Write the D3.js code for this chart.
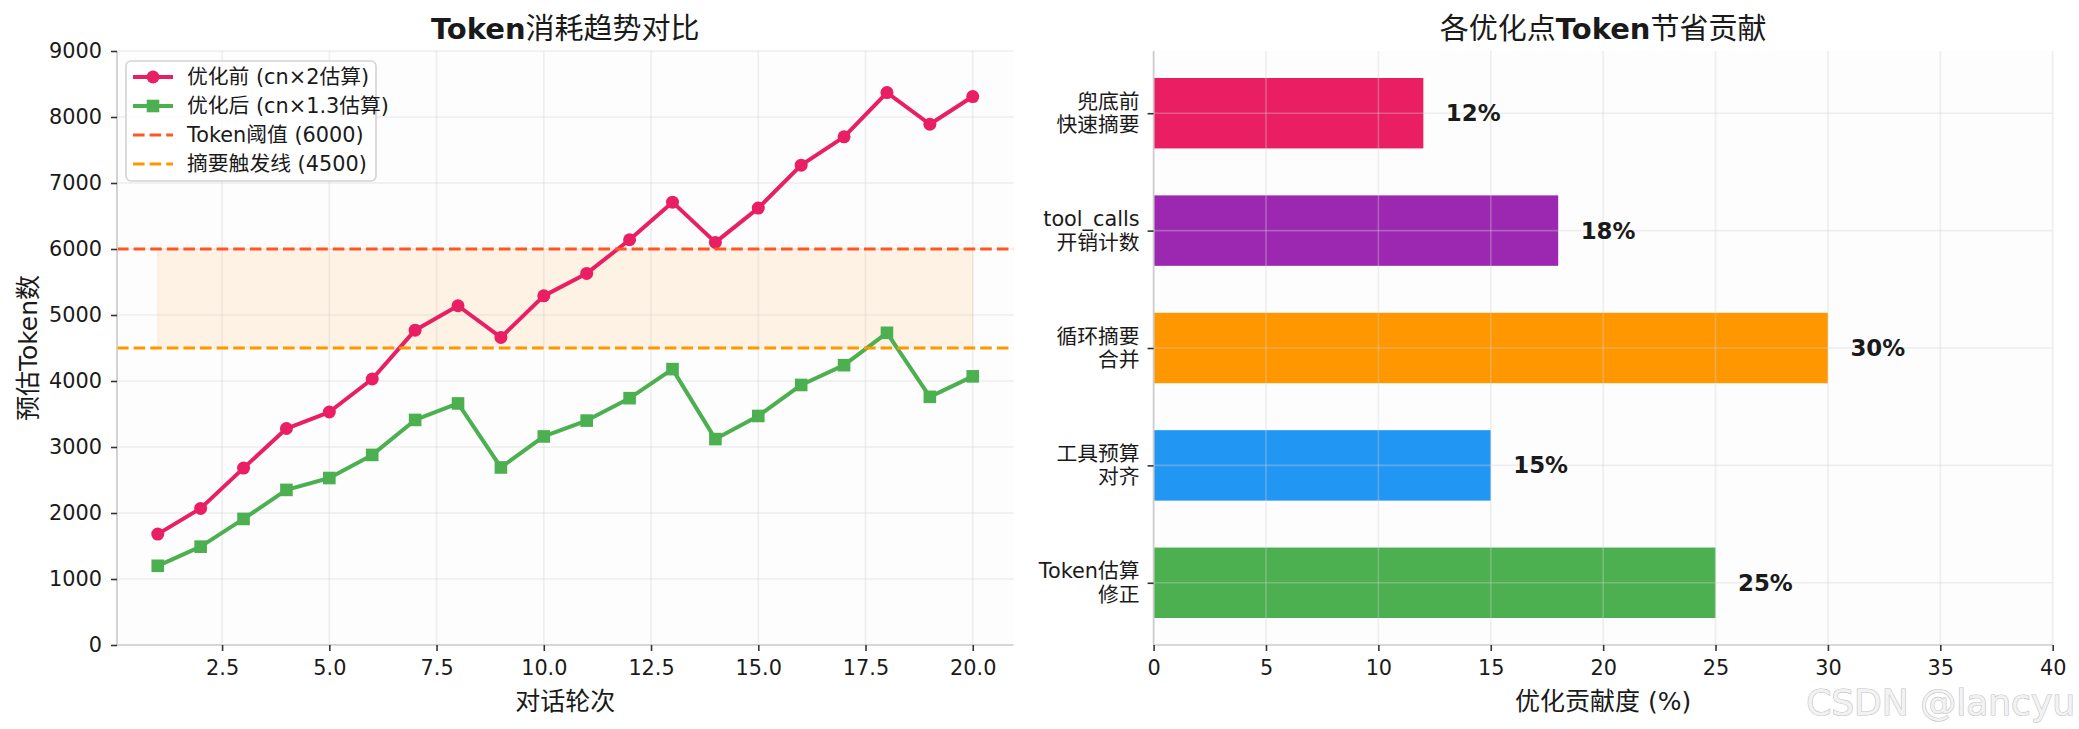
<!DOCTYPE html>
<html><head><meta charset="utf-8">
<script src="https://cdn.jsdelivr.net/npm/d3@7/dist/d3.min.js"></script>
<style>
body{margin:0;background:#fff}
svg{display:block}
text{font-family:"DejaVu Sans","Noto Sans CJK SC",sans-serif;fill:#1a1a1a}
</style>
</head><body>
<svg id="c" width="2079" height="729"></svg>
<script>
// ---------- data ----------
const rounds = [1,2,3,4,5,6,7,8,9,10,11,12,13,14,15,16,17,18,19,20];
const tokensBefore = [1680,2070,2680,3280,3530,4030,4770,5140,4660,5290,5630,6140,6710,6100,6620,7270,7700,8370,7890,8310];
const tokensAfter  = [1200,1490,1910,2350,2530,2880,3410,3660,2690,3160,3400,3740,4180,3120,3470,3940,4240,4730,3760,4070];
const tokenLimit = 6000;
const summaryTrigger = 4500;
const lineYTicks = [0,1000,2000,3000,4000,5000,6000,7000,8000,9000];
const lineXTicks = [2.5,5,7.5,10,12.5,15,17.5,20];
const legendLabels = ["优化前 (cn×2估算)","优化后 (cn×1.3估算)","Token阈值 (6000)","摘要触发线 (4500)"];

const optLabels = [["Token估算","修正"],["工具预算","对齐"],["循环摘要","合并"],["tool_calls","开销计数"],["兜底前","快速摘要"]];
const optValues = [25,15,30,18,12];
const optColors = ["#4CAF50","#2196F3","#FF9800","#9C27B0","#E91E63"];
const barXTicks = [0,5,10,15,20,25,30,35,40];

// ---------- layout ----------
const W=2079,H=729;
const svg=d3.select('#c');
svg.append('rect').attr('width',W).attr('height',H).attr('fill','#fff');
const L={x0:117,x1:1013.5,y0:51,y1:645};
const R={x0:1153.6,x1:2052.7,y0:51,y1:645};
const FS=20.8;
const C_BEFORE="#E91E63", C_AFTER="#4CAF50", C_LIMIT="#FF5722", C_TRIG="#FF9800";

function gridLine(g){ return g.attr('stroke','#d0d0d0').attr('stroke-opacity',0.35).attr('stroke-width',1.6); }

// ================= LEFT CHART =================
const xL=d3.scaleLinear().domain([0.05,20.95]).range([L.x0,L.x1]);
const yL=d3.scaleLinear().domain([0,9000]).range([L.y1,L.y0]);
const gL=svg.append('g');
gL.append('rect').attr('x',L.x0).attr('y',L.y0).attr('width',L.x1-L.x0).attr('height',L.y1-L.y0).attr('fill','#fdfdfd');

// shaded band
gL.append('path').datum(rounds)
  .attr('d',d3.area().x(d=>xL(d)).y0(()=>yL(summaryTrigger)).y1(()=>yL(tokenLimit)))
  .attr('fill',C_TRIG).attr('fill-opacity',0.1).attr('stroke',C_TRIG).attr('stroke-opacity',0.12).attr('stroke-width',1);

// grid
gL.append('g').selectAll('line').data(lineXTicks).join('line')
  .attr('x1',d=>xL(d)).attr('x2',d=>xL(d)).attr('y1',L.y0).attr('y2',L.y1).call(gridLine);
gL.append('g').selectAll('line').data(lineYTicks).join('line')
  .attr('x1',L.x0).attr('x2',L.x1).attr('y1',d=>yL(d)).attr('y2',d=>yL(d)).call(gridLine);

// series
const lineGen=d3.line().x((d,i)=>xL(rounds[i])).y(d=>yL(d));
gL.append('path').datum(tokensBefore).attr('d',lineGen).attr('fill','none').attr('stroke',C_BEFORE).attr('stroke-width',4).attr('stroke-linejoin','round');
gL.append('g').selectAll('circle').data(tokensBefore).join('circle')
  .attr('cx',(d,i)=>xL(rounds[i])).attr('cy',d=>yL(d)).attr('r',6.5).attr('fill',C_BEFORE);
gL.append('path').datum(tokensAfter).attr('d',lineGen).attr('fill','none').attr('stroke',C_AFTER).attr('stroke-width',4).attr('stroke-linejoin','round');
gL.append('g').selectAll('rect').data(tokensAfter).join('rect')
  .attr('x',(d,i)=>xL(rounds[i])-6.3).attr('y',d=>yL(d)-6.3).attr('width',12.6).attr('height',12.6).attr('fill',C_AFTER);

// threshold lines
[[tokenLimit,C_LIMIT],[summaryTrigger,C_TRIG]].forEach(([v,c])=>{
  gL.append('line').attr('x1',L.x0).attr('x2',L.x1).attr('y1',yL(v)).attr('y2',yL(v))
    .attr('stroke',c).attr('stroke-width',3.1).attr('stroke-dasharray','11.6 5');
});

// spines
gL.append('line').attr('x1',L.x0).attr('x2',L.x0).attr('y1',L.y0).attr('y2',L.y1).attr('stroke','#cccccc').attr('stroke-width',1.7);
gL.append('line').attr('x1',L.x0).attr('x2',L.x1).attr('y1',L.y1).attr('y2',L.y1).attr('stroke','#cccccc').attr('stroke-width',1.7);

// axes
function styleAxis(g){
  g.select('.domain').remove();
  g.selectAll('.tick line').attr('stroke','#333').attr('stroke-width',1.6);
  g.selectAll('.tick text').attr('font-size',FS).attr('fill','#1a1a1a').attr('font-family','"DejaVu Sans","Noto Sans CJK SC",sans-serif');
}
gL.append('g').attr('transform',`translate(0,${L.y1})`)
  .call(d3.axisBottom(xL).tickValues(lineXTicks).tickFormat(d3.format('.1f')).tickSize(6).tickPadding(9)).call(styleAxis);
gL.append('g').attr('transform',`translate(${L.x0},0)`)
  .call(d3.axisLeft(yL).tickValues(lineYTicks).tickFormat(d3.format('d')).tickSize(6).tickPadding(9)).call(styleAxis);

// title & labels
const tL=svg.append('text').attr('x',(L.x0+L.x1)/2).attr('y',39).attr('text-anchor','middle').attr('font-size',29);
tL.append('tspan').attr('font-weight','bold').text('Token');
tL.append('tspan').attr('font-family','"Noto Sans CJK SC"').text('消耗趋势对比');
svg.append('text').attr('x',(L.x0+L.x1)/2).attr('y',710).attr('text-anchor','middle').attr('font-size',25).text('对话轮次');
svg.append('text').attr('transform',`translate(28,${(L.y0+L.y1)/2}) rotate(-90)`).attr('text-anchor','middle')
  .attr('dominant-baseline','central').attr('font-size',25).text('预估Token数');

// legend
const lg=svg.append('g');
lg.append('rect').attr('x',126).attr('y',61).attr('width',250).attr('height',120).attr('rx',5)
  .attr('fill','#fff').attr('fill-opacity',0.85).attr('stroke','#d3d3d3').attr('stroke-width',1.6);
const legendStyles=[{c:C_BEFORE,m:'circle'},{c:C_AFTER,m:'square'},{c:C_LIMIT,d:true},{c:C_TRIG,d:true}];
legendLabels.forEach((lab,i)=>{
  const y=77+i*29, s=legendStyles[i];
  const ln=lg.append('line').attr('x1',133).attr('x2',173).attr('y1',y).attr('y2',y).attr('stroke',s.c);
  if(s.d){ ln.attr('stroke-width',3.1).attr('stroke-dasharray','11.6 5'); }
  else { ln.attr('stroke-width',4); }
  if(s.m==='circle') lg.append('circle').attr('cx',153).attr('cy',y).attr('r',6.5).attr('fill',s.c);
  if(s.m==='square') lg.append('rect').attr('x',146.7).attr('y',y-6.3).attr('width',12.6).attr('height',12.6).attr('fill',s.c);
  lg.append('text').attr('x',187).attr('y',y).attr('dominant-baseline','central').attr('font-size',FS).text(lab);
});

// ================= RIGHT CHART =================
const xR=d3.scaleLinear().domain([0,40]).range([R.x0,R.x1]);
const yR=d3.scaleLinear().domain([-0.53,4.53]).range([R.y1,R.y0]);
const gR=svg.append('g');
gR.append('rect').attr('x',R.x0).attr('y',R.y0).attr('width',R.x1-R.x0).attr('height',R.y1-R.y0).attr('fill','#fdfdfd');
const barH=yR(-0.3)-yR(0.3);
gR.append('g').selectAll('rect').data(optValues).join('rect')
  .attr('x',xR(0)).attr('y',(d,i)=>yR(i)-barH/2).attr('width',d=>xR(d)-xR(0)).attr('height',barH)
  .attr('fill',(d,i)=>optColors[i]);
// grid (above bars)
gR.append('g').selectAll('line').data(barXTicks).join('line')
  .attr('x1',d=>xR(d)).attr('x2',d=>xR(d)).attr('y1',R.y0).attr('y2',R.y1).call(gridLine);
gR.append('g').selectAll('line').data(optValues).join('line')
  .attr('x1',R.x0).attr('x2',R.x1).attr('y1',(d,i)=>yR(i)).attr('y2',(d,i)=>yR(i)).call(gridLine);
// value labels
gR.append('g').selectAll('text').data(optValues).join('text')
  .attr('x',d=>xR(d+1)).attr('y',(d,i)=>yR(i)).attr('dominant-baseline','central')
  .attr('font-size',22.9).attr('font-weight','bold').text(d=>d+'%');
// spines
gR.append('line').attr('x1',R.x0).attr('x2',R.x0).attr('y1',R.y0).attr('y2',R.y1).attr('stroke','#cccccc').attr('stroke-width',1.7);
gR.append('line').attr('x1',R.x0).attr('x2',R.x1).attr('y1',R.y1).attr('y2',R.y1).attr('stroke','#cccccc').attr('stroke-width',1.7);
gR.append('g').attr('transform',`translate(0,${R.y1})`)
  .call(d3.axisBottom(xR).tickValues(barXTicks).tickFormat(d3.format('d')).tickSize(6).tickPadding(9)).call(styleAxis);
const yAx=gR.append('g').attr('transform',`translate(${R.x0},0)`)
  .call(d3.axisLeft(yR).tickValues(d3.range(optLabels.length)).tickFormat('').tickSize(6)).call(styleAxis);
yAx.selectAll('.tick text').remove();
gR.append('g').selectAll('text').data(optLabels).join('text')
  .attr('text-anchor','end').attr('font-size',FS)
  .each(function(lines,i){
    const t=d3.select(this);
    lines.forEach((s,k)=>{
      t.append('tspan').attr('x',R.x0-14).attr('y',yR(i)+(k===0?-11.5:12)).attr('dominant-baseline','central').text(s);
    });
  });
const tR=svg.append('text').attr('x',(R.x0+R.x1)/2).attr('y',39).attr('text-anchor','middle').attr('font-size',29);
tR.append('tspan').attr('font-family','"Noto Sans CJK SC"').text('各优化点');
tR.append('tspan').attr('font-weight','bold').text('Token');
tR.append('tspan').attr('font-family','"Noto Sans CJK SC"').text('节省贡献');
svg.append('text').attr('x',(R.x0+R.x1)/2).attr('y',710).attr('text-anchor','middle').attr('font-size',25).text('优化贡献度 (%)');

// watermark
svg.append('text').attr('x',2075).attr('y',715).attr('text-anchor','end')
  .attr('font-family','"Liberation Sans",Arial,sans-serif').attr('font-size',36)
  .style('fill','#f2f2f2').attr('stroke','#c4c4c4').attr('stroke-width',1.2).attr('paint-order','stroke')
  .text('CSDN @lancyu');
</script>
</body></html>
